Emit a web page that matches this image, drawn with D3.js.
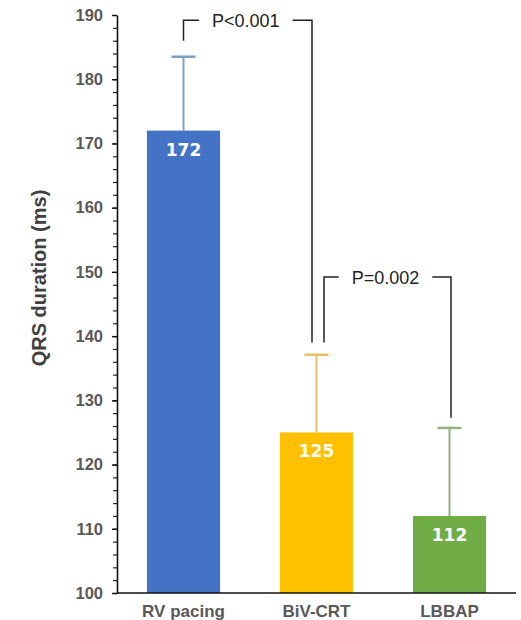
<!DOCTYPE html>
<html>
<head>
<meta charset="utf-8">
<script src="https://cdn.jsdelivr.net/npm/d3@7"></script>
<style>
  body { margin: 0; background: #fff; }
  svg { display: block; font-family: "Liberation Sans", Arial, sans-serif; }
</style>
</head>
<body>
<div id="chart"></div>
<script>
const categories = ["RV pacing", "BiV-CRT", "LBBAP"]
const means = [172, 125, 112]
const sds = [11.5, 12.1, 13.7]
const barColors = ["#4472c4", "#ffc000", "#70ad47"]
const errColors = ["#7f9fc9", "#e6c062", "#93b27c"]
const yTicks = [100, 110, 120, 130, 140, 150, 160, 170, 180, 190]
const pLabels = ["P<0.001", "P=0.002"]
const pPairs = [[0, 1], [1, 2]]
const pLevels = [189.2, 149.2]          // bracket height, in ms
const pLegEnds = [[186.0, 139.0], [139.0, 127.3]] // where each leg stops, in ms

const width = 521, height = 620
const margin = { top: 15, right: 5, bottom: 27, left: 117 }

const svg = d3.select('#chart').append('svg')
  .attr('width', width)
  .attr('height', height)

const x = d3.scaleBand()
  .domain(categories)
  .range([margin.left, width - margin.right])
  .paddingInner(0.45)
  .paddingOuter(0.225)

const y = d3.scaleLinear()
  .domain([100, 190])
  .range([height - margin.bottom, margin.top])

const cx = i => x(categories[i]) + x.bandwidth() / 2

// minor ticks every 2 ms
svg.append('g')
  .attr('transform', `translate(${margin.left},0)`)
  .call(d3.axisLeft(y).tickValues(d3.range(100, 191, 2)).tickSize(4).tickFormat(''))
  .call(g => g.select('.domain').remove())
  .call(g => g.selectAll('line').attr('stroke', '#222').attr('stroke-width', 1.2))

// y axis
svg.append('g')
  .attr('transform', `translate(${margin.left},0)`)
  .call(d3.axisLeft(y).tickValues(yTicks).tickSize(5).tickSizeOuter(0).tickPadding(9))
  .call(g => g.select('.domain').attr('stroke', '#111').attr('stroke-width', 1.6))
  .call(g => g.selectAll('line').attr('stroke', '#111').attr('stroke-width', 1.4))
  .call(g => g.selectAll('text')
    .attr('fill', '#595959')
    .style('font-size', '16.5px')
    .style('font-weight', 'bold'))

// y title
svg.append('text')
  .attr('transform', `translate(46,${(margin.top + height - margin.bottom) / 2 - 26}) rotate(-90)`)
  .attr('text-anchor', 'middle')
  .attr('fill', '#404040')
  .style('font-size', '20px')
  .style('font-weight', 'bold')
  .text('QRS duration (ms)')

// error bars (upper only)
const err = svg.append('g')
means.forEach((m, i) => {
  const top = y(m + sds[i])
  err.append('line')
    .attr('x1', cx(i)).attr('x2', cx(i))
    .attr('y1', y(m)).attr('y2', top)
    .attr('stroke', errColors[i]).attr('stroke-width', 2)
  err.append('line')
    .attr('x1', cx(i) - 12).attr('x2', cx(i) + 12)
    .attr('y1', top).attr('y2', top)
    .attr('stroke', errColors[i]).attr('stroke-width', 2.5)
})

// bars
svg.append('g')
  .selectAll('rect')
  .data(means)
  .join('rect')
  .attr('x', (d, i) => x(categories[i]))
  .attr('y', d => y(d))
  .attr('width', x.bandwidth())
  .attr('height', d => y(100) - y(d))
  .attr('fill', (d, i) => barColors[i])

// value labels
svg.append('g')
  .selectAll('text')
  .data(means)
  .join('text')
  .attr('x', (d, i) => cx(i))
  .attr('y', d => y(d) + 25)
  .attr('text-anchor', 'middle')
  .attr('fill', '#fff')
  .style('font-family', '"DejaVu Sans", Verdana, sans-serif')
  .style('font-size', '17px')
  .style('font-weight', 'bold')
  .text(d => d)

// x axis
svg.append('g')
  .attr('transform', `translate(0,${y(100)})`)
  .call(d3.axisBottom(x).tickSize(0).tickPadding(12))
  .call(g => g.select('.domain').attr('stroke', '#111').attr('stroke-width', 1.6)
    .attr('d', `M${margin.left},0H${width - margin.right}`))
  .call(g => g.selectAll('text')
    .attr('fill', '#595959')
    .style('font-size', '17px')
    .style('font-weight', 'bold'))

// significance brackets
const legShift = [[0, -4.5], [7.5, 1.5]]
const br = svg.append('g')
pPairs.forEach(([a, b], k) => {
  const x0 = cx(a) + legShift[k][0]
  const x1 = cx(b) + legShift[k][1]
  const ly = y(pLevels[k])
  const label = br.append('text')
    .attr('x', (x0 + x1) / 2 - 2)
    .attr('y', ly + 7)
    .attr('text-anchor', 'middle')
    .attr('fill', '#222')
    .style('font-size', '18px')
    .text(pLabels[k])
  const w = label.node().getComputedTextLength()
  const mid = (x0 + x1) / 2 - 2
  const gap = 13
  br.append('path')
    .attr('d', `M${x0},${y(pLegEnds[k][0])}V${ly}H${mid - w / 2 - gap}`)
    .attr('fill', 'none').attr('stroke', '#222').attr('stroke-width', 1.5)
  br.append('path')
    .attr('d', `M${mid + w / 2 + gap},${ly}H${x1}V${y(pLegEnds[k][1])}`)
    .attr('fill', 'none').attr('stroke', '#222').attr('stroke-width', 1.5)
})
</script>
</body>
</html>
